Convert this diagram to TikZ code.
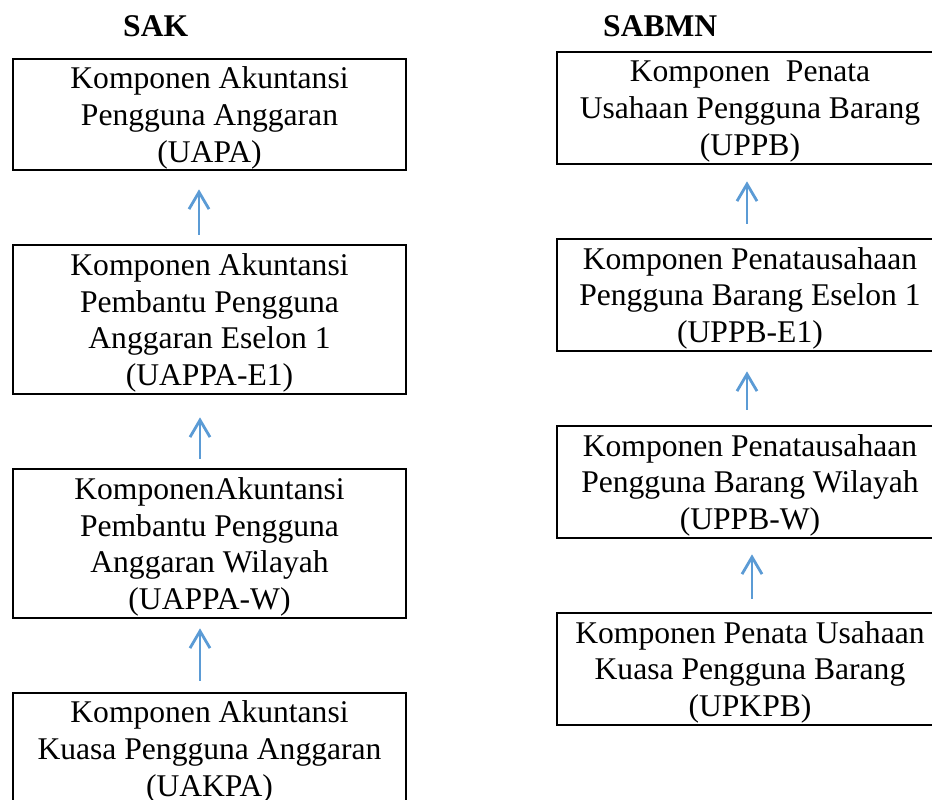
\documentclass[tikz,border=0pt]{standalone}
\usepackage{fontspec}
\setmainfont{Liberation Serif}
\usetikzlibrary{arrows.meta}
\definecolor{arrowblue}{RGB}{91,155,213}
\begin{document}
\begin{tikzpicture}[x=1pt,y=-1pt,
  boxnode/.style={draw=black, line width=2.7pt, inner sep=0pt, align=center,
    font=\fontsize{31.6pt}{36.7pt}\selectfont, text depth=0pt},
  leftbox/.style={boxnode, minimum width=393pt},
  rightbox/.style={boxnode, minimum width=386pt, minimum height=112pt},
  uparrow/.style={draw=arrowblue, line width=2.8pt, -{Straight Barb[length=17pt,width=20pt]}},
  titletext/.style={font=\fontsize{31.6pt}{36.7pt}\selectfont\bfseries, inner sep=0pt, anchor=base west}]
\fill[white] (0,0) rectangle (932,800);
\useasboundingbox (0,0) rectangle (932,800);

% titles
\node[titletext] (sak) at (123,37) {SAK};
\node[titletext] (sabmn) at (603,37) {SABMN};

% left column
\node[leftbox, minimum height=111pt] (L1) at (209.5,114.5)
  {Komponen Akuntansi\\Pengguna Anggaran\\(UAPA)};
\node[leftbox, minimum height=149pt] (L2) at (209.5,319.5)
  {Komponen Akuntansi\\Pembantu Pengguna\\Anggaran Eselon 1\\(UAPPA-E1)};
\node[leftbox, minimum height=149pt] (L3) at (209.5,543.5)
  {KomponenAkuntansi\\Pembantu Pengguna\\Anggaran Wilayah\\(UAPPA-W)};
\node[leftbox, minimum height=111pt] (L4) at (209.5,748.5)
  {Komponen Akuntansi\\Kuasa Pengguna Anggaran\\(UAKPA)};

% right column
\node[rightbox] (R1) at (750,108)
  {Komponen\ \ Penata\\Usahaan Pengguna Barang\\(UPPB)};
\node[rightbox] (R2) at (750,295)
  {Komponen Penatausahaan\\Pengguna Barang Eselon 1\\(UPPB-E1)};
\node[rightbox] (R3) at (750,482)
  {Komponen Penatausahaan\\Pengguna Barang Wilayah\\(UPPB-W)};
\node[rightbox] (R4) at (750,669)
  {Komponen Penata Usahaan\\Kuasa Pengguna Barang\\(UPKPB)};

% arrows left
\draw[uparrow] ([xshift=-10.5pt,yshift=9pt]L2.north) -- ([xshift=-10.5pt,yshift=-18pt]L1.south);
\draw[uparrow] ([xshift=-9.5pt,yshift=9pt]L3.north) -- ([xshift=-9.5pt,yshift=-22pt]L2.south);
\draw[uparrow] ([xshift=-9.5pt,yshift=11pt]L4.north) -- ([xshift=-9.5pt,yshift=-9pt]L3.south);

% arrows right
\draw[uparrow] ([xshift=-3pt,yshift=14pt]R2.north) -- ([xshift=-3pt,yshift=-16pt]R1.south);
\draw[uparrow] ([xshift=-3pt,yshift=15pt]R3.north) -- ([xshift=-3pt,yshift=-19pt]R2.south);
\draw[uparrow] ([xshift=2pt,yshift=13pt]R4.north) -- ([xshift=2pt,yshift=-15pt]R3.south);
\end{tikzpicture}
\end{document}
